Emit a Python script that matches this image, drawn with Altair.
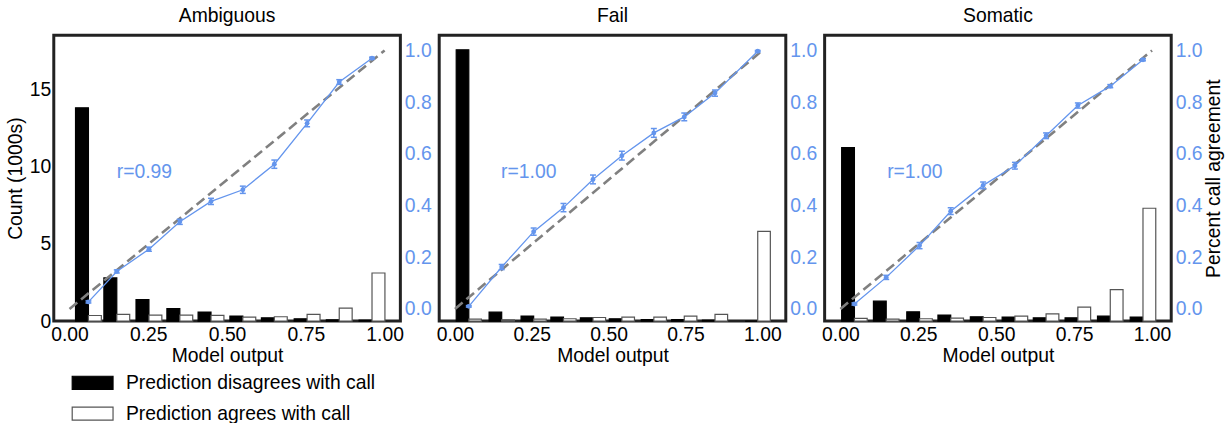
import altair as alt
import pandas as pd

FONT = "Liberation Sans"
BLUE = "#6495ED"
FS = 19.4

DIS = "Prediction disagrees with call"
AGR = "Prediction agrees with call"

# histogram bin centres (model output) per call type
amb_centers = [0.06, 0.15, 0.252, 0.35, 0.449, 0.55, 0.65, 0.754, 0.856, 0.96]
fail_centers = [0.045, 0.152, 0.256, 0.353, 0.449, 0.543, 0.647, 0.746, 0.846, 0.985]
som_centers = [0.045, 0.147, 0.254, 0.354, 0.458, 0.56, 0.66, 0.762, 0.866, 0.971]

# counts in thousands
amb_disagree = [13.8, 2.79, 1.39, 0.81, 0.58, 0.32, 0.21, 0.15, 0.08, 0.06]
amb_agree = [0.36, 0.43, 0.39, 0.39, 0.37, 0.26, 0.28, 0.43, 0.84, 3.11]
fail_disagree = [17.56, 0.58, 0.32, 0.26, 0.21, 0.15, 0.10, 0.10, 0.06, 0.0]
fail_agree = [0.13, 0.08, 0.13, 0.15, 0.23, 0.26, 0.26, 0.32, 0.43, 5.8]
som_disagree = [11.23, 1.29, 0.60, 0.39, 0.28, 0.26, 0.21, 0.21, 0.32, 0.26]
som_agree = [0.17, 0.13, 0.15, 0.19, 0.23, 0.32, 0.47, 0.90, 2.04, 7.3]

# fraction of calls agreeing with the prediction, with error
amb_rate = [0.027, 0.145, 0.231, 0.337, 0.416, 0.461, 0.560, 0.718, 0.878, 0.970]
amb_err = [0.004, 0.006, 0.008, 0.010, 0.012, 0.014, 0.016, 0.013, 0.009, 0.004]
fail_rate = [0.010, 0.162, 0.299, 0.392, 0.501, 0.593, 0.681, 0.743, 0.835, 0.997]
fail_err = [0.003, 0.010, 0.014, 0.016, 0.017, 0.017, 0.017, 0.015, 0.012, 0.003]
som_rate = [0.019, 0.122, 0.245, 0.378, 0.478, 0.554, 0.670, 0.787, 0.862, 0.964]
som_err = [0.004, 0.008, 0.012, 0.013, 0.013, 0.013, 0.011, 0.010, 0.006, 0.004]

r_labels = ["r=0.99", "r=1.00", "r=1.00"]
titles = ["Ambiguous", "Fail", "Somatic"]
x_domains = [[-0.05, 1.05], [-0.0513, 1.0763], [-0.0506, 1.0616]]

BAR_W = 0.041
W, H = 348, 287

fill_scale = alt.Scale(domain=[DIS, AGR], range=["black", "white"])
stroke_scale = alt.Scale(domain=[DIS, AGR], range=["black", "#555555"])
legend = alt.Legend(
    title=None, orient="none", legendX=17.5, legendY=327.5,
    symbolType="M-1,-0.32H1V0.32H-1Z", symbolSize=1681, symbolStrokeWidth=1.2,
    labelFontSize=FS, labelFont=FONT, labelColor="black", labelOffset=12,
    rowPadding=-1, labelLimit=400,
)


def panel(idx, centers, disagree, agree, rate, err):
    first, last = idx == 0, idx == 2
    bars = pd.DataFrame({
        "x0": [c - BAR_W for c in centers] + list(centers),
        "x1": list(centers) + [c + BAR_W for c in centers],
        "count": list(disagree) + list(agree),
        "base": [0.0] * (2 * len(centers)),
        "kind": [DIS] * len(centers) + [AGR] * len(centers),
    })
    pts = pd.DataFrame({
        "x": centers,
        "rate": rate,
        "lo": [r - e for r, e in zip(rate, err)],
        "hi": [r + e for r, e in zip(rate, err)],
    })
    diag = pd.DataFrame({"x": [0.0, 1.0], "rate": [0.0, 1.0]})

    xs = alt.Scale(domain=x_domains[idx], nice=False, zero=False)
    x_axis = alt.Axis(values=[0, 0.25, 0.5, 0.75, 1.0], format=".2f", title="Model output",
                      ticks=False, grid=False, domain=False, labelPadding=5,
                      titlePadding=2, labelFlush=False)
    count_scale = alt.Scale(domain=[0, 18.5], nice=False, zero=True)
    rate_scale = alt.Scale(domain=[-0.047, 1.059], nice=False, zero=False)
    if first:
        left_axis = alt.Axis(values=[0, 5, 10, 15], title="Count (1000s)", ticks=False,
                             grid=False, domain=False, labelPadding=3, titlePadding=4)
    else:
        left_axis = None
    right_kw = dict(orient="right", values=[0, 0.2, 0.4, 0.6, 0.8, 1.0], format=".1f",
                    labelColor=BLUE, ticks=False, grid=False, domain=False,
                    labelPadding=4, labelFlush=False)
    if last:
        right_axis = alt.Axis(title="Percent call agreement", titleAngle=270,
                              titleBaseline="top", titlePadding=3, **right_kw)
    else:
        right_axis = alt.Axis(title=None, **right_kw)

    X = lambda f: alt.X(f, type="quantitative", scale=xs, axis=x_axis)

    hist = alt.Chart(bars).mark_rect(strokeWidth=1.2).encode(
        x=X("x0"),
        x2="x1",
        y=alt.Y("count:Q", scale=count_scale, axis=left_axis),
        y2="base",
        fill=alt.Fill("kind:N", scale=fill_scale, legend=legend),
        stroke=alt.Stroke("kind:N", scale=stroke_scale, legend=legend),
    )

    Yr = lambda f: alt.Y(f, type="quantitative", scale=rate_scale, axis=right_axis)

    dashed = alt.Chart(diag).mark_line(color="gray", strokeWidth=2.6, strokeDash=[10, 5]).encode(
        x=X("x"), y=Yr("rate"))
    line = alt.Chart(pts).mark_line(color=BLUE, strokeWidth=1.3).encode(x=X("x"), y=Yr("rate"))
    bars_err = alt.Chart(pts).mark_rule(color=BLUE, strokeWidth=1.6).encode(
        x=X("x"), y=Yr("lo"), y2="hi")
    cap_lo = alt.Chart(pts).mark_tick(color=BLUE, orient="horizontal", size=6, thickness=1.5,
                                      opacity=1).encode(x=X("x"), y=Yr("lo"))
    cap_hi = alt.Chart(pts).mark_tick(color=BLUE, orient="horizontal", size=6, thickness=1.5,
                                      opacity=1).encode(x=X("x"), y=Yr("hi"))
    dots = alt.Chart(pts).mark_point(filled=True, color=BLUE, size=24, opacity=1).encode(
        x=X("x"), y=Yr("rate"))
    rtext = alt.Chart(pd.DataFrame({"t": [r_labels[idx]]})).mark_text(
        color=BLUE, fontSize=FS, font=FONT, align="left", baseline="middle").encode(
        x=alt.X(datum=0.15, type="quantitative", scale=xs, axis=x_axis),
        y=alt.Y(datum=0.53, type="quantitative", scale=rate_scale, axis=right_axis),
        text="t:N")

    agree_layer = alt.layer(dashed, line, bars_err, cap_lo, cap_hi, dots, rtext)
    return alt.layer(hist, agree_layer).resolve_scale(y="independent").properties(
        width=W, height=H,
        title=alt.Title(titles[idx], fontSize=FS, font=FONT, fontWeight="normal",
                        color="black", offset=9),
    )


p1 = panel(0, amb_centers, amb_disagree, amb_agree, amb_rate, amb_err)
p2 = panel(1, fail_centers, fail_disagree, fail_agree, fail_rate, fail_err)
p3 = panel(2, som_centers, som_disagree, som_agree, som_rate, som_err)

chart = alt.hconcat(p1, p2, p3, spacing=1).properties(
    padding={"left": 3, "top": 3.5, "right": 0, "bottom": 0},
    background="white",
).configure_view(
    stroke="#222222", strokeWidth=3,
).configure_axis(
    labelFont=FONT, titleFont=FONT, labelFontSize=FS, titleFontSize=FS,
    titleFontWeight="normal", labelColor="black", titleColor="black",
)

chart.save("out.html", embed_options={"renderer": "svg", "actions": False})
